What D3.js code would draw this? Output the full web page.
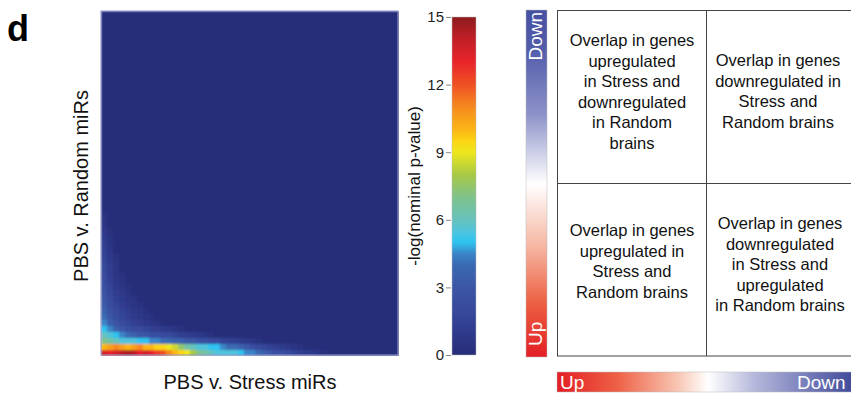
<!DOCTYPE html>
<html>
<head>
<meta charset="utf-8">
<script src="https://cdn.jsdelivr.net/npm/d3@7"></script>
<style>
  body { margin: 0; background: #fff; }
  svg { display: block; font-family: "Liberation Sans", Arial, Helvetica, sans-serif; }
</style>
</head>
<body>
<svg id="chart" width="851" height="395"></svg>
<script>
// heatmap grid size (columns = PBS v. Stress, rows = PBS v. Random, row 0 at bottom)
const nCols = 50;
const nRows = 57;
const background = 0.1;

// -log(p) values, per row from the bottom, leading columns only
const row0 = [13.5, 13, 13.5, 14, 14.5, 14, 13, 13.5, 13, 12.5, 12, 11, 10, 9.5, 9, 8, 7, 6.5, 6, 5.5, 5.5, 5.5, 5.5, 5, 4.5, 4.5, 4, 3.5, 3, 2.5, 2.5, 2, 1.5, 1.2, 1, 0.8, 0.6, 0.4];
const row1 = [10, 10.5, 11, 10.5, 10, 10.5, 11, 10, 10, 9.5, 9.5, 9, 8.5, 7.5, 6.5, 6, 5.5, 5.5, 5, 5, 4.5, 4, 4, 3.5, 3, 2.5, 2, 1.8, 1.5, 1.2, 1, 0.8, 0.6, 0.4];
const row2 = [7, 6.5, 6, 5.5, 5.5, 5.5, 5, 5, 4.5, 4.5, 4, 4, 3.5, 3.5, 3, 3, 2.5, 2.5, 2, 2, 1.5, 1.5, 1.2, 1, 0.8, 0.6, 0.4];
const row3 = [6, 5.5, 5, 4.5, 4, 3.5, 3, 3, 2.5, 2.5, 2, 2, 1.6, 1.4, 1.2, 1, 0.8, 0.6, 0.4];
const row4 = [5, 4.5, 3.5, 3, 2.5, 2, 2, 1.6, 1.4, 1.2, 1, 0.8, 0.6, 0.4];
const row5 = [4.5, 3.5, 2.8, 2.2, 1.8, 1.4, 1.1, 0.9, 0.7, 0.5];
const row6 = [4, 3, 2.3, 1.8, 1.4, 1, 0.8, 0.6, 0.4];
const row7 = [3.6, 2.6, 2, 1.5, 1.1, 0.8, 0.6, 0.4];
const row8 = [3.3, 2.3, 1.7, 1.2, 0.9, 0.6, 0.4];
const row9 = [3, 2, 1.4, 1, 0.7, 0.5];
const row10 = [2.7, 1.8, 1.2, 0.8, 0.5];
const row11 = [2.5, 1.6, 1, 0.7, 0.4];
const row12 = [2.3, 1.4, 0.9, 0.5];
const row13 = [2.1, 1.2, 0.7, 0.4];
const row14 = [1.9, 1.1, 0.6];
const row15 = [1.7, 1, 0.5];
const row16 = [1.5, 0.8, 0.4];
const row17 = [1.3, 0.7];
const row18 = [1.1, 0.6];
const row19 = [1, 0.5];
const row20 = [0.8, 0.4];
const row21 = [0.7];
const row22 = [0.5];
const row23 = [0.4];
const rowData = [row0, row1, row2, row3, row4, row5, row6, row7, row8, row9, row10, row11,
  row12, row13, row14, row15, row16, row17, row18, row19, row20, row21, row22, row23];

// colour scale of the colour bar
const colorValues = [0, 1, 2, 3, 4, 4.5, 5, 5.5, 6, 7, 8, 9, 9.5, 10, 11, 12, 13, 14, 15];
const colorHex = ["#272d78", "#2f3a8c", "#374a9c", "#3b56a5", "#3a6ab2", "#3a86c8", "#2ec3f0", "#4fc4dc",
  "#66c2bc", "#7fc28c", "#a8c945", "#eee71d", "#fbd514", "#fbb616", "#f58a1f", "#ef5123", "#e8242a", "#c21f26", "#8e1b1e"];
const colorTicks = [0, 3, 6, 9, 12, 15];

// quadrant labels
const quadTopLeft = ["Overlap in genes", "upregulated", "in Stress and", "downregulated", "in Random", "brains"];
const quadTopRight = ["Overlap in genes", "downregulated in", "Stress and", "Random brains"];
const quadBottomLeft = ["Overlap in genes", "upregulated in", "Stress and", "Random brains"];
const quadBottomRight = ["Overlap in genes", "downregulated", "in Stress and", "upregulated", "in Random brains"];

const svg = d3.select("#chart");
const heat = { left: 101, right: 398, top: 11, bottom: 355 };

const color = d3.scaleLinear().domain(colorValues).range(colorHex).clamp(true);

const x = d3.scaleBand().domain(d3.range(nCols)).range([heat.left, heat.right]);
const y = d3.scaleBand().domain(d3.range(nRows)).range([heat.bottom, heat.top]);

const cells = [];
for (let r = 0; r < nRows; r++) {
  for (let c = 0; c < nCols; c++) {
    const row = rowData[r];
    const v = row && c < row.length ? row[c] : background;
    cells.push({ r, c, v });
  }
}

const defs = svg.append("defs");
defs.append("filter").attr("id", "soft")
  .attr("x", 0).attr("y", 0).attr("width", 1).attr("height", 1)
  .append("feGaussianBlur").attr("stdDeviation", 0.9).attr("edgeMode", "duplicate");

svg.append("g")
  .attr("filter", "url(#soft)")
  .attr("shape-rendering", "crispEdges")
  .selectAll("rect")
  .data(cells)
  .join("rect")
  .attr("x", d => x(d.c))
  .attr("y", d => y(d.r))
  .attr("width", x.bandwidth() + 1)
  .attr("height", y.bandwidth() + 1)
  .attr("fill", d => color(d.v));

svg.append("rect")
  .attr("x", heat.left).attr("y", heat.top)
  .attr("width", heat.right - heat.left).attr("height", heat.bottom - heat.top)
  .attr("fill", "none").attr("stroke", "#8a90c8").attr("stroke-width", 1);

// panel letter
svg.append("text").attr("x", 7).attr("y", 41)
  .style("font-size", "36px").style("font-weight", "bold").text("d");

// axis titles
svg.append("text").attr("x", 250).attr("y", 389)
  .attr("text-anchor", "middle").style("font-size", "20px").attr("fill", "#111")
  .text("PBS v. Stress miRs");
svg.append("text").attr("transform", "translate(88,186) rotate(-90)")
  .attr("text-anchor", "middle").style("font-size", "20px").attr("fill", "#111")
  .text("PBS v. Random miRs");

// colour bar
const bar = { left: 452, width: 24, top: 17, bottom: 355 };
const cy = d3.scaleLinear().domain([0, 15]).range([bar.bottom, bar.top]);

const grad = defs.append("linearGradient").attr("id", "pgrad")
  .attr("x1", 0).attr("y1", 1).attr("x2", 0).attr("y2", 0);
grad.selectAll("stop").data(colorValues).join("stop")
  .attr("offset", d => d / 15)
  .attr("stop-color", d => color(d));

svg.append("rect")
  .attr("x", bar.left).attr("y", bar.top)
  .attr("width", bar.width).attr("height", bar.bottom - bar.top)
  .attr("fill", "url(#pgrad)").attr("stroke", "#bbb").attr("stroke-width", 0.5);

const cAxis = svg.append("g")
  .attr("transform", `translate(${bar.left - 1},0)`)
  .call(d3.axisLeft(cy).tickValues(colorTicks).tickSize(5).tickPadding(2));
cAxis.select(".domain").remove();
cAxis.selectAll("line").attr("stroke", "#888");
cAxis.selectAll("text").style("font-size", "15px").attr("fill", "#222")
  .style("font-family", "'Liberation Sans', Arial, sans-serif");

svg.append("text").attr("transform", "translate(420,186) rotate(-90)")
  .attr("text-anchor", "middle").style("font-size", "17px").attr("fill", "#111")
  .text("-log(nominal p-value)");

// direction key
const vGrad = defs.append("linearGradient").attr("id", "vgrad")
  .attr("x1", 0).attr("y1", 0).attr("x2", 0).attr("y2", 1);
[[0, "#4550a2"], [0.12, "#545eaa"], [0.3, "#8c92c8"], [0.5, "#ffffff"],
 [0.68, "#f6b7a3"], [0.85, "#ec5d40"], [1, "#e31e25"]].forEach(s =>
  vGrad.append("stop").attr("offset", s[0]).attr("stop-color", s[1]));

const hGrad = defs.append("linearGradient").attr("id", "hgrad")
  .attr("x1", 0).attr("y1", 0).attr("x2", 1).attr("y2", 0);
[[0, "#e31e25"], [0.2, "#ee6146"], [0.4, "#f8c6b3"], [0.5, "#ffffff"],
 [0.65, "#b7badc"], [0.85, "#6e75b5"], [1, "#3a4494"]].forEach(s =>
  hGrad.append("stop").attr("offset", s[0]).attr("stop-color", s[1]));

svg.append("rect").attr("x", 526).attr("y", 10).attr("width", 21).attr("height", 347)
  .attr("fill", "url(#vgrad)").attr("stroke", "#bbb").attr("stroke-width", 0.5);
svg.append("text").attr("transform", "translate(542,12) rotate(-90)")
  .attr("text-anchor", "end").style("font-size", "19px").attr("fill", "#fff").text("Down");
svg.append("text").attr("transform", "translate(542,346) rotate(-90)")
  .attr("text-anchor", "start").style("font-size", "19px").attr("fill", "#fff").text("Up");

svg.append("rect").attr("x", 557).attr("y", 372).attr("width", 302).attr("height", 20)
  .attr("fill", "url(#hgrad)").attr("stroke", "#bbb").attr("stroke-width", 0.5);
svg.append("text").attr("x", 560).attr("y", 389)
  .style("font-size", "19px").attr("fill", "#fff").text("Up");
svg.append("text").attr("x", 797).attr("y", 389)
  .style("font-size", "19px").attr("fill", "#fff").text("Down");

// quadrant grid
const grid = { left: 557.5, mid: 706.5, right: 860, top: 10.5, hmid: 183.5, bottom: 356 };
const gridG = svg.append("g").attr("stroke", "#444").attr("stroke-width", 1).attr("fill", "none");
gridG.append("rect").attr("x", grid.left).attr("y", grid.top)
  .attr("width", grid.right - grid.left).attr("height", grid.bottom - grid.top);
gridG.append("line").attr("x1", grid.mid).attr("x2", grid.mid).attr("y1", grid.top).attr("y2", grid.bottom);
gridG.append("line").attr("x1", grid.left).attr("x2", grid.right).attr("y1", grid.hmid).attr("y2", grid.hmid);

function block(lines, cx, firstBaseline) {
  svg.append("text")
    .attr("text-anchor", "middle").style("font-size", "16.5px").attr("fill", "#111")
    .selectAll("tspan").data(lines).join("tspan")
    .attr("x", cx)
    .attr("y", (d, i) => firstBaseline + i * 20.6)
    .text(d => d);
}
block(quadTopLeft, 632, 46);
block(quadTopRight, 778, 66);
block(quadBottomLeft, 632, 236);
block(quadBottomRight, 780, 229);
</script>
</body>
</html>
